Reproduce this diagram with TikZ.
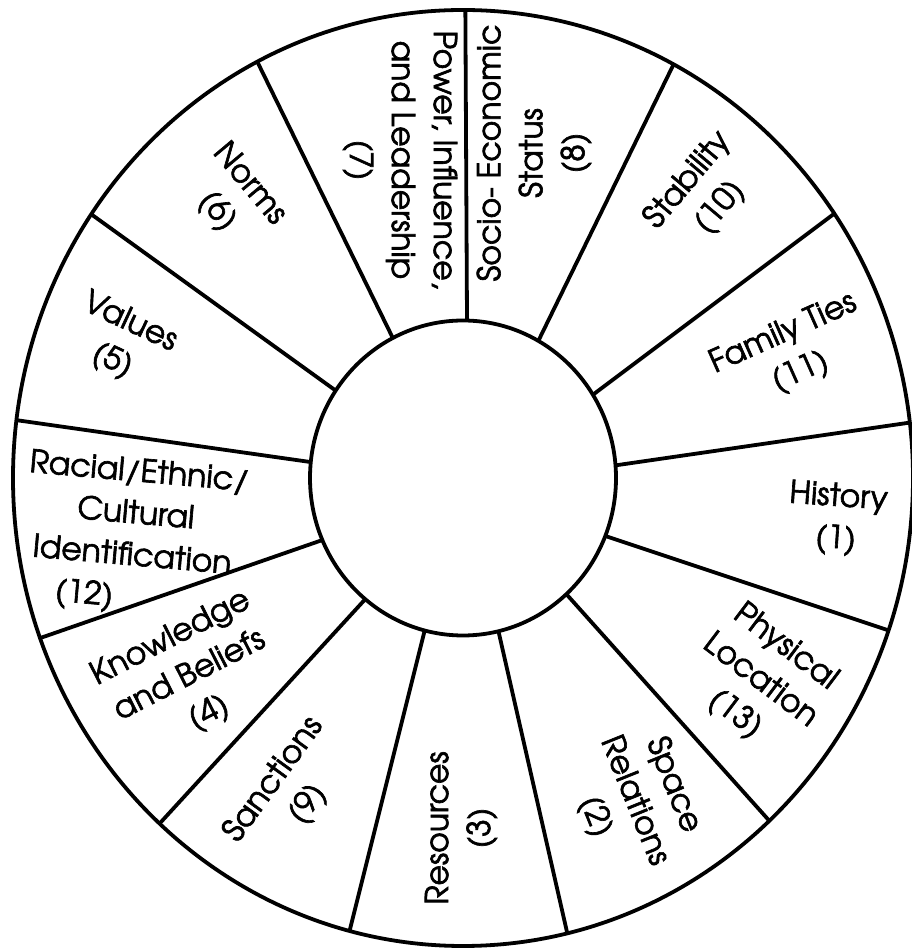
\documentclass[tikz,border=0pt]{standalone}
\usepackage{fontspec}
\setmainfont{TeX Gyre Adventor}[FakeBold=2]
\begin{document}
\begin{tikzpicture}[x=1pt,y=1pt,
  wheel/.style={line width=3.8pt},
  lbl/.style={align=center, font=\fontsize{31.5}{42}\selectfont, inner sep=0pt}]
\useasboundingbox (0,0) rectangle (912,950);
\fill[white] (0,0) rectangle (912,950);
\coordinate (C) at (463,472);
% rims
\draw[wheel] (C) ellipse [x radius=450, y radius=468];
\draw[wheel] (C) ellipse [x radius=153, y radius=157.5];
% spokes: number / inner angle / outer angle
\foreach \n/\a/\b in {1/88.5/89.7, 2/60.5/62.1, 3/31.9/34.4, 4/4.6/6.8,
  5/-21.6/-19.0, 6/-47.5/-47.1, 7/-76.6/-76.6, 8/-104.5/-104.6,
  9/-129.7/-132.4, 10/-156.8/-160, 11/174.2/172.9, 12/146.3/145.7,
  13/117.3/117.2} {
  \path (C) ++(\a:153 and 157.5) coordinate (i\n);
  \path (C) ++(\b:450 and 468) coordinate (o\n);
  \draw[wheel] (i\n) -- (o\n);
}
% labels
\node[lbl, rotate=-4]  (l1)  at (837,431) {History\\(1)};
\node[lbl, rotate=-68] (l2)  at (634,149) {Space\\Relations\\(2)};
\node[lbl, rotate=90]  (l3)  at (461,122) {Resources\\(3)};
\node[lbl, rotate=27]  (l4)  at (190,274) {Knowledge\\and Beliefs\\(4)};
\node[lbl, rotate=-25] (l5)  at (121,608) {Values\\(5)};
\node[lbl, rotate=-50] (l6)  at (233,752) {Norms\\(6)};
\node[lbl, rotate=-90] (l7)  at (400,790) {Power, Influence,\\and Leadership\\(7)};
\node[lbl, rotate=90]  (l8)  at (534,797) {Socio- Economic\\Status\\(8)};
\node[lbl, rotate=54]  (l9)  at (291,158) {Sanctions\\(9)};
\node[lbl, rotate=50]  (l10) at (704,756) {Stability\\(10)};
\node[lbl, rotate=24]  (l11) at (792,597) {Family Ties\\(11)};
\node[lbl, rotate=-5]  (l12) at (136,438) {Racial/Ethnic/\\Cultural\\Identification};
\node[lbl, rotate=-5]  (l12n) at (84,355) {(12)};
\node[lbl, rotate=-37] (l13) at (760,269) {Physical\\Location\\(13)};
\end{tikzpicture}
\end{document}
